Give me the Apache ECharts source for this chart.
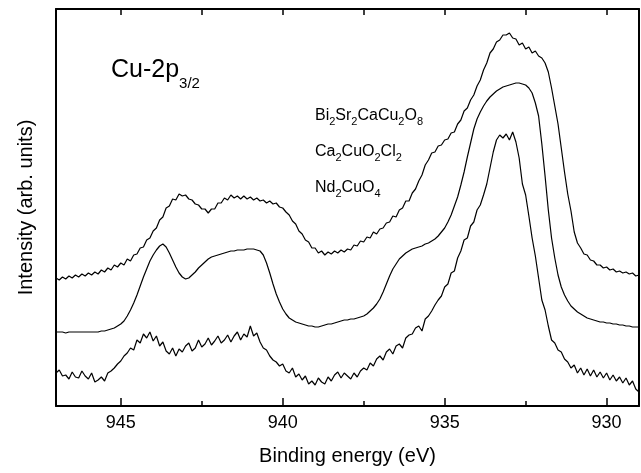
<!DOCTYPE html>
<html><head><meta charset="utf-8">
<script src="https://cdn.jsdelivr.net/npm/echarts@6/dist/echarts.min.js"></script>
<style>html,body{margin:0;padding:0;background:#fff}#c{width:641px;height:473px}</style>
</head><body><div id="c"></div>
<script>
// Binding energy (eV), sampled every 0.1 eV
const energy = [
947,946.9,946.8,946.7,946.6,946.5,946.4,946.3,946.2,946.1,
946,945.9,945.8,945.7,945.6,945.5,945.4,945.3,945.2,945.1,
945,944.9,944.8,944.7,944.6,944.5,944.4,944.3,944.2,944.1,
944,943.9,943.8,943.7,943.6,943.5,943.4,943.3,943.2,943.1,
943,942.9,942.8,942.7,942.6,942.5,942.4,942.3,942.2,942.1,
942,941.9,941.8,941.7,941.6,941.5,941.4,941.3,941.2,941.1,
941,940.9,940.8,940.7,940.6,940.5,940.4,940.3,940.2,940.1,
940,939.9,939.8,939.7,939.6,939.5,939.4,939.3,939.2,939.1,
939,938.9,938.8,938.7,938.6,938.5,938.4,938.3,938.2,938.1,
938,937.9,937.8,937.7,937.6,937.5,937.4,937.3,937.2,937.1,
937,936.9,936.8,936.7,936.6,936.5,936.4,936.3,936.2,936.1,
936,935.9,935.8,935.7,935.6,935.5,935.4,935.3,935.2,935.1,
935,934.9,934.8,934.7,934.6,934.5,934.4,934.3,934.2,934.1,
934,933.9,933.8,933.7,933.6,933.5,933.4,933.3,933.2,933.1,
933,932.9,932.8,932.7,932.6,932.5,932.4,932.3,932.2,932.1,
932,931.9,931.8,931.7,931.6,931.5,931.4,931.3,931.2,931.1,
931,930.9,930.8,930.7,930.6,930.5,930.4,930.3,930.2,930.1,
930,929.9,929.8,929.7,929.6,929.5,929.4,929.3,929.2,929.1,
929];
// Intensity (arb. units, offset spectra)
const bi2212 = [
128,126,129,127,130,128,131,129,132,130,
133,131,134,132,136,134,138,136,141,139,
143,141,147,145,151,152,158,159,166,168,
175,178,186,189,198,200,207,206,212,210,
211,207,206,202,201,197,197,193,197,197,
203,203,208,206,211,208,210,207,210,207,
209,206,208,205,206,203,205,202,203,199,
198,194,191,185,182,175,172,166,164,158,
158,153,155,151,154,152,155,153,156,154,
157,156,161,160,165,164,169,168,174,172,
177,178,183,184,190,189,196,198,205,205,
213,217,225,231,241,246,253,254,260,261,
266,267,273,274,282,286,295,298,306,311,
320,326,336,343,353,357,364,366,371,371,
373,368,367,361,363,357,359,353,355,350,
348,343,334,318,300,282,258,234,212,195,
174,163,158,152,151,146,145,141,141,138,
139,136,137,134,135,133,134,132,133,130,
131];
const ca2cuo2cl2 = [
74,74,74,73,74,74,74,74,74,74,
74,74,74,74,75,75,76,77,78,80,
82,85,90,96,103,111,120,129,137,145,
151,156,160,162,159,153,146,139,133,129,
127,128,131,134,138,141,144,147,149,150,
151,152,153,154,155,155,156,156,156,157,
157,157,156,155,151,143,133,122,112,104,
97,92,88,86,84,83,82,81,80,80,
79,79,80,81,82,82,83,84,85,86,
86,87,87,88,89,90,92,95,98,102,
107,114,122,130,137,142,147,150,153,155,
157,158,159,160,162,163,165,167,170,174,
178,184,191,200,209,221,234,249,263,277,
287,294,300,305,309,312,315,317,319,320,
321,322,323,323,322,321,318,313,303,290,
262,230,196,168,148,131,119,111,105,100,
97,94,92,90,88,87,86,85,84,84,
83,83,82,82,81,81,80,80,79,79,
79];
const nd2cuo4 = [
33,36,30,31,27,34,29,28,35,30,
27,33,24,26,29,25,33,35,38,42,
45,50,53,58,56,66,63,72,68,74,
65,70,60,64,55,52,58,50,57,54,
60,63,55,58,66,59,62,68,61,65,
70,63,66,71,64,70,74,66,72,69,
80,70,73,64,58,56,50,46,44,40,
42,35,33,38,29,32,26,30,22,25,
21,28,24,22,29,25,31,34,28,33,
30,27,33,29,35,38,36,43,40,47,
50,46,54,57,52,60,62,58,68,71,
72,78,80,75,87,90,95,101,106,110,
119,122,133,135,148,155,166,168,180,184,
196,201,211,222,238,254,266,271,268,272,
266,274,264,248,222,211,190,168,150,128,
106,96,80,66,63,56,54,47,44,38,
41,33,38,31,37,30,36,29,34,28,
33,26,31,25,29,23,28,21,25,17,
14];
const majorTicks = [945, 940, 935, 930];
const minorTicks = [942.5, 937.5, 932.5];
const topTicks = [945, 942.5, 940, 937.5, 935, 932.5, 930];

const F = '"Liberation Sans", Arial, Helvetica, sans-serif';
const ctx = document.createElement('canvas').getContext('2d');
function tw(t, s) { ctx.font = s + 'px ' + F; return ctx.measureText(t).width; }
function formula(x, y, parts, size, subSize, subDy) {
  const children = []; let cx = 0;
  parts.forEach(p => {
    const sub = p[1] === 1, s = sub ? subSize : size;
    children.push({type: 'text', x: cx, y: sub ? subDy : 0,
      style: {text: p[0], fontSize: s, fontFamily: F, fill: '#000', align: 'left', verticalAlign: 'middle'}});
    cx += tw(p[0], s);
  });
  return {type: 'group', x: x, y: y, children: children};
}

const chart = echarts.init(document.getElementById('c'), null, {renderer: 'canvas'});
const mk = arr => energy.map((e, i) => [e, arr[i]]);
const lineSeries = (name, arr) => ({
  name: name, type: 'line', data: mk(arr), showSymbol: false, symbol: 'none',
  lineStyle: {color: '#000', width: 1.2}, itemStyle: {color: '#000'}, animation: false, z: 3
});
const xBase = {type: 'value', min: 929, max: 947, inverse: true, splitLine: {show: false}};
chart.setOption({
  backgroundColor: '#fff',
  animation: false,
  grid: {left: 56, right: 2, top: 9, bottom: 67, containLabel: false},
  xAxis: [
    Object.assign({}, xBase, {
      position: 'bottom',
      name: 'Binding energy (eV)', nameLocation: 'middle', nameGap: 40,
      nameTextStyle: {fontSize: 20, fontFamily: F, color: '#000'},
      axisLine: {show: true, onZero: false, lineStyle: {color: '#000', width: 2}},
      axisTick: {show: true, inside: true, length: 8, customValues: majorTicks, lineStyle: {color: '#000', width: 1.5}},
      axisLabel: {show: true, customValues: majorTicks, fontSize: 18, fontFamily: F, color: '#000', margin: 8}
    }),
    Object.assign({}, xBase, {
      position: 'bottom',
      axisLine: {show: false, onZero: false},
      axisTick: {show: true, inside: true, length: 5, customValues: minorTicks, lineStyle: {color: '#000', width: 1.5}},
      axisLabel: {show: false}
    }),
    Object.assign({}, xBase, {
      position: 'top',
      axisLine: {show: true, onZero: false, lineStyle: {color: '#000', width: 2}},
      axisTick: {show: true, inside: true, length: 6, customValues: topTicks, lineStyle: {color: '#000', width: 1.5}},
      axisLabel: {show: false}
    })
  ],
  yAxis: [
    {type: 'value', min: 0, max: 397, position: 'left',
     name: 'Intensity (arb. units)', nameLocation: 'middle', nameGap: 20,
     nameTextStyle: {fontSize: 20, fontFamily: F, color: '#000'},
     axisLine: {show: true, onZero: false, lineStyle: {color: '#000', width: 2}},
     axisTick: {show: false}, axisLabel: {show: false}, splitLine: {show: false}},
    {type: 'value', min: 0, max: 397, position: 'right',
     axisLine: {show: true, onZero: false, lineStyle: {color: '#000', width: 2}},
     axisTick: {show: false}, axisLabel: {show: false}, splitLine: {show: false}}
  ],
  series: [
    lineSeries('Bi2Sr2CaCu2O8', bi2212),
    lineSeries('Ca2CuO2Cl2', ca2cuo2cl2),
    lineSeries('Nd2CuO4', nd2cuo4)
  ],
  graphic: [
    formula(111, 70, [['Cu-2p', 0], ['3/2', 1]], 25, 15, 14),
    formula(315, 116, [['Bi', 0], ['2', 1], ['Sr', 0], ['2', 1], ['CaCu', 0], ['2', 1], ['O', 0], ['8', 1]], 16, 11, 6),
    formula(315, 152, [['Ca', 0], ['2', 1], ['CuO', 0], ['2', 1], ['Cl', 0], ['2', 1]], 16, 11, 6),
    formula(315, 188, [['Nd', 0], ['2', 1], ['CuO', 0], ['4', 1]], 16, 11, 6)
  ]
});
</script>
</body></html>
